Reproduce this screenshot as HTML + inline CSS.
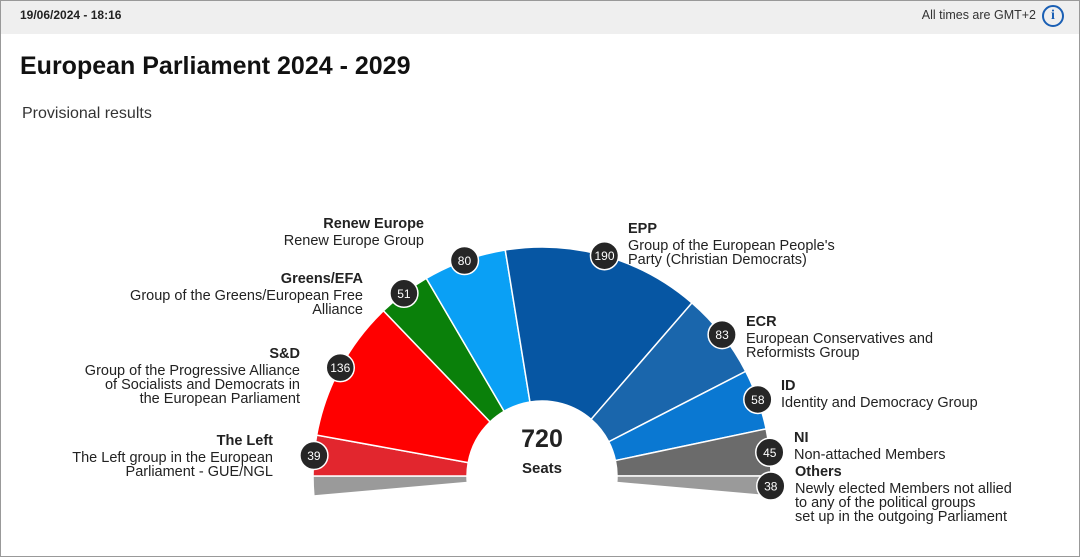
<!DOCTYPE html>
<html><head><meta charset="utf-8">
<style>
body{margin:0;width:1080px;height:557px;overflow:hidden;background:#fff;font-family:"Liberation Sans",sans-serif;}
#frame{position:absolute;left:0;top:0;width:1078px;height:555px;border:1px solid #999;}
#hdr{position:absolute;left:0;top:0;width:1078px;height:33px;background:#efefef;}
.t{position:absolute;white-space:nowrap;color:#222;}
.lab{font-size:14.5px;}
.lab b{display:block;line-height:20px;}
.lab div{line-height:14px;}
</style></head><body>
<div id="frame">
<div id="hdr"></div>
</div>
<div class="t" style="left:20px;top:8px;font-size:12px;font-weight:bold;">19/06/2024 - 18:16</div>
<div class="t" style="right:44px;top:8px;font-size:12.5px;color:#333;">All times are GMT+2</div>
<div style="position:absolute;left:1042px;top:5px;width:18px;height:18px;border:2px solid #1a5fb4;border-radius:50%;color:#1a5fb4;font-size:14px;font-weight:bold;text-align:center;line-height:18px;font-family:'Liberation Serif',serif;">i</div>
<div class="t" style="left:20px;top:52px;font-size:25px;font-weight:bold;color:#111;">European Parliament 2024 - 2029</div>
<div class="t" style="left:22px;top:105px;font-size:16px;color:#333;">Provisional results</div>
<svg id="chart" width="1080" height="557" style="position:absolute;left:0;top:0"></svg>
<script>
const groups=["Others","The Left","S&D","Greens/EFA","Renew Europe","EPP","ECR","ID","NI","Others"];
const seats=[19,39,136,51,80,190,83,58,45,19];
const badgeValues=["",39,136,51,80,190,83,58,45,38];
const colors=["#9a9a9a","#e2262e","#ff0000","#0a800a","#0aa0f5","#0656a3","#1a66ac","#0a78d2","#6b6b6b","#9a9a9a"];
const mainTotal=682;
const cx=542,cy=476,R=229,r0=75;
const ns="http://www.w3.org/2000/svg";
const svg=document.getElementById('chart');
const degPerSeat=180/mainTotal;
function pt(a,rad){const t=a*Math.PI/180;return [cx-rad*Math.cos(t),cy-rad*Math.sin(t)];}
let a=-seats[0]*degPerSeat;
const badges=[];
seats.forEach((s,i)=>{
  const a0=a,a1=a+s*degPerSeat;a=a1;
  const p1=pt(a0,R),p2=pt(a1,R),p3=pt(a1,r0),p4=pt(a0,r0);
  const path=document.createElementNS(ns,'path');
  path.setAttribute('d',`M${p4[0]},${p4[1]}L${p1[0]},${p1[1]}A${R},${R} 0 0 1 ${p2[0]},${p2[1]}L${p3[0]},${p3[1]}A${r0},${r0} 0 0 0 ${p4[0]},${p4[1]}Z`);
  path.setAttribute('fill',colors[i]);path.setAttribute('stroke','#fff');path.setAttribute('stroke-width','1.5');
  
  
  svg.appendChild(path);
  if(badgeValues[i]!==""){badges.push([pt((a0+a1)/2,R),badgeValues[i]]);}
});
const inner=document.createElementNS(ns,'circle');
inner.setAttribute('cx',cx);inner.setAttribute('cy',cy);inner.setAttribute('r',r0-1);inner.setAttribute('fill','#fff');


svg.appendChild(inner);
badges.forEach(([p,v])=>{
  const c=document.createElementNS(ns,'circle');
  c.setAttribute('cx',p[0]);c.setAttribute('cy',p[1]);c.setAttribute('r',14);c.setAttribute('fill','#262626');c.setAttribute('stroke','#fff');c.setAttribute('stroke-width','1.5');
  
  
  svg.appendChild(c);
  const t=document.createElementNS(ns,'text');
  t.setAttribute('x',p[0]);t.setAttribute('y',p[1]+4.5);t.setAttribute('text-anchor','middle');t.setAttribute('fill','#fff');t.setAttribute('font-size','12');t.setAttribute('font-family','Liberation Sans, sans-serif');
  t.textContent=v;
  
  
  svg.appendChild(t);
});
const tot=document.createElementNS(ns,'text');
tot.setAttribute('x',cx);tot.setAttribute('y',447);tot.setAttribute('text-anchor','middle');tot.setAttribute('font-size','25');tot.setAttribute('font-weight','bold');tot.setAttribute('fill','#222');tot.setAttribute('font-family','Liberation Sans, sans-serif');
tot.textContent=seats.reduce((x,y)=>x+y,0);


svg.appendChild(tot);
const st=document.createElementNS(ns,'text');
st.setAttribute('x',cx);st.setAttribute('y',473);st.setAttribute('text-anchor','middle');st.setAttribute('font-size','15');st.setAttribute('font-weight','bold');st.setAttribute('fill','#222');st.setAttribute('font-family','Liberation Sans, sans-serif');
st.textContent='Seats';


svg.appendChild(st);
</script>
<div class="t lab" style="right:656px;top:214px;text-align:right;"><b>Renew Europe</b><div>Renew Europe Group</div></div>
<div class="t lab" style="right:717px;top:269px;text-align:right;"><b>Greens/EFA</b><div>Group of the Greens/European Free<br>Alliance</div></div>
<div class="t lab" style="right:780px;top:344px;text-align:right;"><b>S&amp;D</b><div>Group of the Progressive Alliance<br>of Socialists and Democrats in<br>the European Parliament</div></div>
<div class="t lab" style="right:807px;top:431px;text-align:right;"><b>The Left</b><div>The Left group in the European<br>Parliament - GUE/NGL</div></div>
<div class="t lab" style="left:628px;top:219px;"><b>EPP</b><div>Group of the European People's<br>Party (Christian Democrats)</div></div>
<div class="t lab" style="left:746px;top:312px;"><b>ECR</b><div>European Conservatives and<br>Reformists Group</div></div>
<div class="t lab" style="left:781px;top:376px;"><b>ID</b><div>Identity and Democracy Group</div></div>
<div class="t lab" style="left:794px;top:428px;"><b>NI</b><div>Non-attached Members</div></div>
<div class="t lab" style="left:795px;top:462px;"><b>Others</b><div>Newly elected Members not allied<br>to any of the political groups<br>set up in the outgoing Parliament</div></div>
</body></html>
